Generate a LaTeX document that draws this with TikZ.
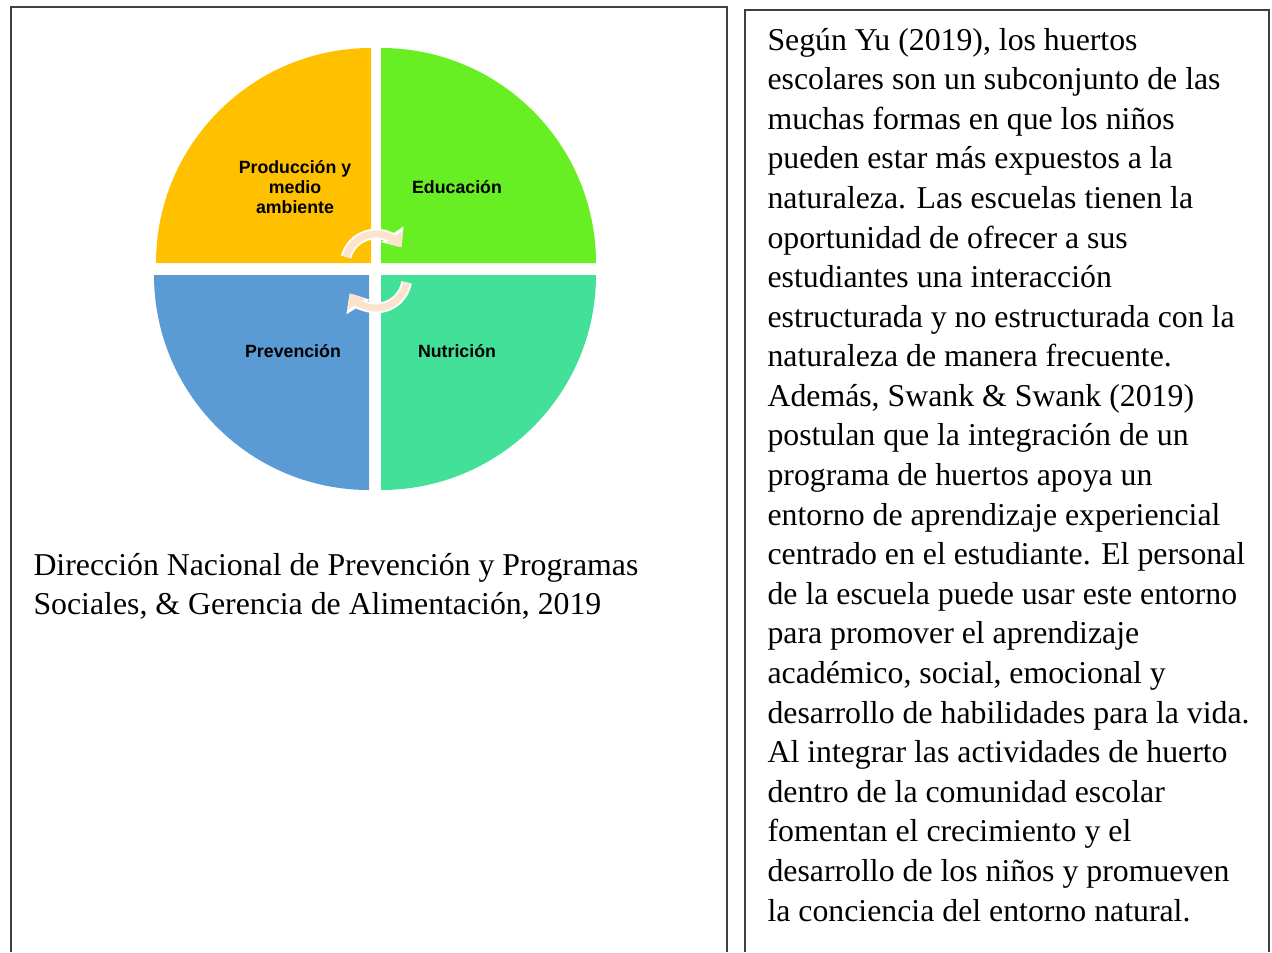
\documentclass[tikz,border=0pt]{standalone}
\usepackage{fontspec}
\setmainfont{Liberation Serif}
\newfontfamily\arialfont{Liberation Sans}
\usetikzlibrary{arrows.meta}

\definecolor{prodyellow}{HTML}{FFC000}
\definecolor{edugreen}{HTML}{68EF24}
\definecolor{prevblue}{HTML}{5B9BD5}
\definecolor{nutteal}{HTML}{43E09A}
\definecolor{arrowpeach}{HTML}{FCE4CC}

\tikzset{
  quadlabel/.style={font=\arialfont\bfseries\fontsize{6.7}{7.4}\selectfont, align=center, inner sep=0pt},
  bodytext/.style={font=\fontsize{12}{14.94}\selectfont, align=left, inner sep=0pt, anchor=base west},
  frameline/.style={line width=0.75pt, draw=black!75},
  cycleout/.style={white, line width=4pt, -{Triangle[length=6pt,width=10pt]}},
  cyclein/.style={arrowpeach, line width=2.6pt, -{Triangle[length=4.8pt,width=8pt]}},
}

\begin{document}
\begin{tikzpicture}[x=0.3774pt,y=0.3774pt]
\useasboundingbox (0,0) rectangle (1272,-952);

% frames, open at the bottom
\draw[frameline] (11,-952) -- (11,-7) -- (727,-7) -- (727,-952);
\draw[frameline] (745,-952) -- (745,-10) -- (1269,-10) -- (1269,-952);

% the four quadrants
\fill[prodyellow] (371,-263) -- ++(-215,0) arc[start angle=180,end angle=90,radius=215] -- cycle;
\fill[edugreen] (381,-263) -- ++(215,0) arc[start angle=0,end angle=90,radius=215] -- cycle;
\fill[prevblue] (369,-275) -- ++(-215,0) arc[start angle=180,end angle=270,radius=215] -- cycle;
\fill[nutteal] (381,-275) -- ++(215,0) arc[start angle=0,end angle=-90,radius=215] -- cycle;

% cycle arrows in the middle
\coordinate (topc) at (376,-265);
\coordinate (botc) at (376,-277);
\draw[cycleout] (topc) ++(165:31) arc[start angle=165,end angle=35,radius=31];
\draw[cycleout] (botc) ++(-10:31) arc[start angle=-10,end angle=-148,radius=31];
\draw[cyclein] (topc) ++(165:31) arc[start angle=165,end angle=35,radius=31];
\draw[cyclein] (botc) ++(-10:31) arc[start angle=-10,end angle=-148,radius=31];

\node[quadlabel] (prod) at (295,-187) {Producción y\\medio\\ambiente};
\node[quadlabel] (edu) at (457,-187) {Educación};
\node[quadlabel] (prev) at (293,-351) {Prevención};
\node[quadlabel] (nut) at (457,-351) {Nutrición};

% base of a multi-line node = baseline of its last line
\node[bodytext] (source) at (33,-614.6) {Dirección Nacional de Prevención y Programas\\
Sociales, \& Gerencia de Alimentación, 2019};

\node[bodytext] (yutext) at (767,-921) {Según Yu (2019), los huertos\\
escolares son un subconjunto de las\\
muchas formas en que los niños\\
pueden estar más expuestos a la\\
naturaleza. Las escuelas tienen la\\
oportunidad de ofrecer a sus\\
estudiantes una interacción\\
estructurada y no estructurada con la\\
naturaleza de manera frecuente.\\
Además, Swank \& Swank (2019)\\
postulan que la integración de un\\
programa de huertos apoya un\\
entorno de aprendizaje experiencial\\
centrado en el estudiante. El personal\\
de la escuela puede usar este entorno\\
para promover el aprendizaje\\
académico, social, emocional y\\
desarrollo de habilidades para la vida.\\
Al integrar las actividades de huerto\\
dentro de la comunidad escolar\\
fomentan el crecimiento y el\\
desarrollo de los niños y promueven\\
la conciencia del entorno natural.};

\end{tikzpicture}
\end{document}
